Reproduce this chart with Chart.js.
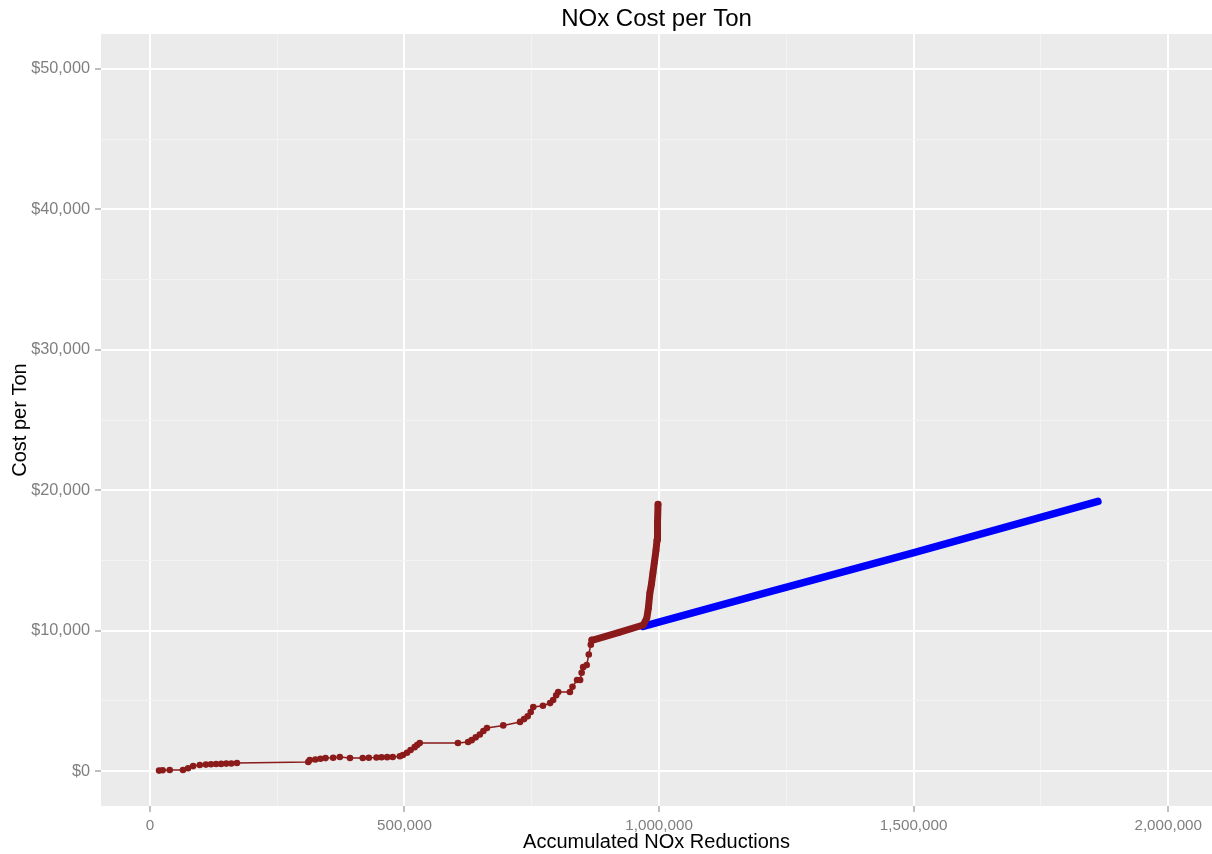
<!DOCTYPE html>
<html>
<head>
<meta charset="utf-8">
<title>NOx Cost per Ton</title>
<script src="https://cdn.jsdelivr.net/npm/chart.js@4.4.1/dist/chart.umd.min.js"></script>
<style>
  html, body { margin: 0; padding: 0; background: #fff; }
  #wrap { width: 1212px; height: 854px; position: relative; }
</style>
</head>
<body>
<div id="wrap"><canvas id="noxChart" width="1212" height="854"></canvas></div>
<script>
/* NOx cost per ton — accumulated reductions vs cost */

// red series (existing controls)
const RED_X = [18000, 25000, 39000, 65000, 75000, 85000, 98000, 110000, 120000, 130000,
  140000, 150000, 160000, 171000, 311000, 314000, 325000, 335000, 345000, 360000,
  373000, 393000, 418000, 430000, 445000, 455000, 466000, 477000, 491000, 497000,
  505000, 512000, 520000, 525000, 530000, 605000, 625000, 632000, 640000, 648000,
  655000, 662000, 694000, 727000, 735000, 742000, 748000, 753000, 772000, 786000,
  792000, 798000, 802000, 825000, 830000, 839000, 845000, 848000, 851000, 858000,
  862000, 866000, 868000, 870000, 920000, 969000, 976000, 979000, 982000, 985000,
  988000, 991000, 994000, 996000, 997000, 998000];
const RED_Y = [30, 60, 70, 70, 200, 350, 430, 460, 480, 500,
  510, 530, 540, 570, 640, 780, 820, 870, 920, 950,
  1000, 930, 930, 950, 960, 980, 990, 1000, 1050, 1140,
  1300, 1500, 1700, 1850, 2000, 2000, 2070, 2200, 2400, 2600,
  2850, 3060, 3250, 3500, 3700, 3900, 4200, 4560, 4650, 4840,
  5060, 5400, 5630, 5630, 6000, 6480, 6480, 7000, 7400, 7550,
  8300, 9000, 9330, 9330, 9850, 10400, 10900, 11600, 12680, 13300,
  14100, 14900, 15700, 16450, 17700, 19000];

// blue series (new option)
const BLUE_X = [969000, 1200000, 1499000, 1862000];
const BLUE_Y = [10300, 12600, 15530, 19200];

const X_TICKS = [0, 250000, 500000, 750000, 1000000, 1250000, 1500000, 1750000, 2000000];
const Y_TICKS = [0, 5000, 10000, 15000, 20000, 25000, 30000, 35000, 40000, 45000, 50000];

const toPoints = (xs, ys) => xs.map((x, i) => ({ x: x, y: ys[i] }));
const isMajorX = v => v % 500000 === 0;
const isMajorY = v => v % 10000 === 0;

const panelBg = {
  id: "panelBg",
  beforeDraw(chart) {
    const { ctx, chartArea: a } = chart;
    ctx.save();
    ctx.fillStyle = "#EBEBEB";
    ctx.fillRect(a.left, a.top, a.right - a.left, a.bottom - a.top);
    ctx.restore();
  },
  afterDraw(chart) {
    const { ctx, chartArea: a } = chart;
    ctx.save();
    ctx.fillStyle = "#000";
    ctx.font = "24px 'Liberation Sans', Arial, sans-serif";
    ctx.textAlign = "center";
    ctx.textBaseline = "middle";
    ctx.fillText("NOx Cost per Ton", (a.left + a.right) / 2, 19);
    ctx.restore();
  }
};

const fam = "'Liberation Sans', Arial, sans-serif";
const titleFont = { family: fam, size: 20 };

new Chart(document.getElementById("noxChart"), {
  type: "line",
  data: {
    datasets: [
      {
        data: toPoints(RED_X, RED_Y),
        borderColor: "#8B1A1A",
        backgroundColor: "#8B1A1A",
        borderWidth: 1.5,
        pointRadius: 3.3,
        pointBorderWidth: 0,
        pointBackgroundColor: "#8B1A1A",
        borderCapStyle: "round",
        borderJoinStyle: "round",
        segment: {
          borderWidth: c => c.p0.parsed.x >= 868000 ? 7 : 1.5
        }
      },
      {
        data: toPoints(BLUE_X, BLUE_Y),
        borderColor: "#0000FF",
        borderWidth: 7.5,
        pointRadius: 0,
        borderCapStyle: "round"
      }
    ]
  },
  options: {
    responsive: false,
    animation: false,
    layout: { autoPadding: false, padding: { top: 34, right: 0, left: 0, bottom: 0 } },
    plugins: {
      legend: { display: false },
      tooltip: { enabled: false },
      title: { display: false }
    },
    scales: {
      x: {
        type: "linear",
        min: -96000,
        max: 2086000,
        afterBuildTicks: s => { s.ticks = X_TICKS.map(v => ({ value: v })); },
        afterFit: s => { s.height = 48; s.paddingLeft = 0; s.paddingRight = 0; },
        border: { display: false },
        grid: {
          color: c => isMajorX(c.tick.value) ? "#FFFFFF" : "#F3F3F3",
          lineWidth: c => isMajorX(c.tick.value) ? 2 : 1,
          tickColor: c => isMajorX(c.tick.value) ? "#7F7F7F" : "rgba(0,0,0,0)",
          tickLength: 6,
          tickWidth: 1
        },
        ticks: {
          autoSkip: false,
          maxRotation: 0,
          padding: 5,
          color: "#7F7F7F",
          font: { family: fam, size: 15.2 },
          callback: v => isMajorX(v) ? v.toLocaleString("en-US") : ""
        },
        title: {
          display: true,
          text: "Accumulated NOx Reductions",
          color: "#000",
          font: titleFont,
          padding: { top: 0, bottom: 0 }
        }
      },
      y: {
        type: "linear",
        min: -2490,
        max: 52490,
        afterBuildTicks: s => { s.ticks = Y_TICKS.map(v => ({ value: v })); },
        afterFit: s => { s.width = 101; },
        border: { display: false },
        grid: {
          color: c => isMajorY(c.tick.value) ? "#FFFFFF" : "#F3F3F3",
          lineWidth: c => isMajorY(c.tick.value) ? 2 : 1,
          tickColor: c => isMajorY(c.tick.value) ? "#7F7F7F" : "rgba(0,0,0,0)",
          tickLength: 6,
          tickWidth: 1
        },
        ticks: {
          autoSkip: false,
          padding: 5,
          color: "#7F7F7F",
          font: { family: fam, size: 16.3 },
          callback: v => isMajorY(v) ? "$" + v.toLocaleString("en-US") : ""
        },
        title: {
          display: true,
          text: "Cost per Ton",
          color: "#000",
          font: titleFont,
          padding: { top: 8, bottom: 0 }
        }
      }
    }
  },
  plugins: [panelBg]
});
</script>
</body>
</html>
